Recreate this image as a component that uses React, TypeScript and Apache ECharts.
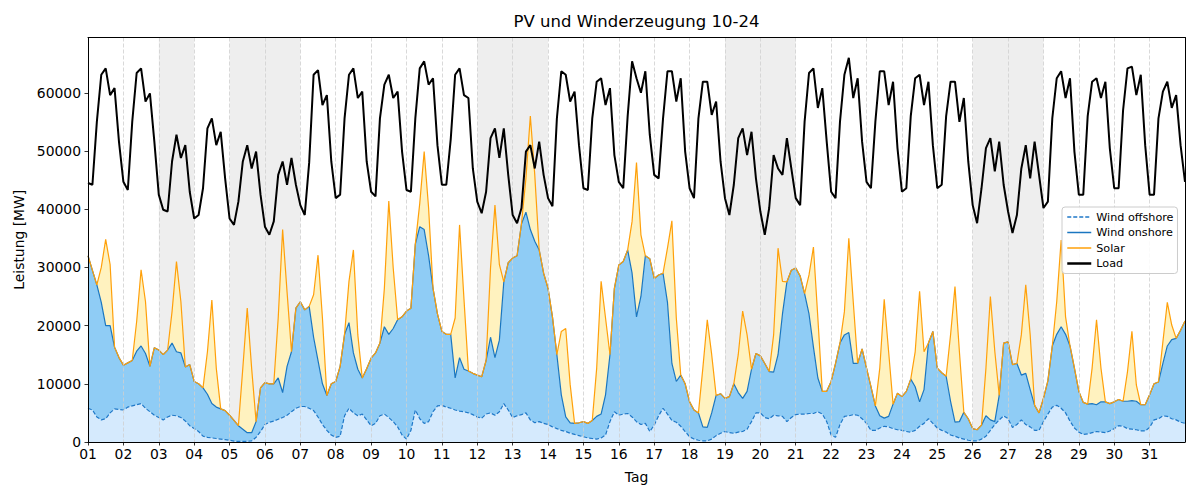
import React, { useEffect, useRef } from "react";
import * as echarts from "echarts";

// ---------- data ----------
const dayLabels = [
  "01", "02", "03", "04", "05", "06", "07", "08", "09", "10",
  "11", "12", "13", "14", "15", "16", "17", "18", "19", "20",
  "21", "22", "23", "24", "25", "26", "27", "28", "29", "30", "31",
];
const hoursOfDay = [0, 3, 6, 9, 12, 15, 18, 21];
// days (1-based) shaded as weekend / holiday
const shadedDays = [3, 5, 6, 12, 13, 19, 20, 26, 27];
const yTicks = [0, 10000, 20000, 30000, 40000, 50000, 60000];

// Load [MW], one row per day, values at 0,3,6,...,21 h
const loadMW = [
  [44500, 44200, 55000, 63100, 64200, 59600, 60800, 51600],
  [44700, 43300, 55000, 63400, 64200, 58500, 59900, 51600],
  [42500, 39900, 39600, 48200, 52800, 48800, 51000, 43000],
  [38400, 39000, 43600, 53900, 55600, 51000, 53300, 45300],
  [38400, 37300, 41300, 48200, 51000, 47000, 49900, 42500],
  [37000, 35600, 37900, 45900, 48200, 44200, 48800, 44200],
  [40700, 39000, 48000, 63100, 63900, 57900, 59600, 48200],
  [41900, 42500, 55600, 63100, 64200, 59100, 60200, 48200],
  [43000, 42200, 55600, 61400, 63100, 59100, 60200, 49900],
  [43300, 43000, 55600, 64200, 65400, 61400, 62500, 51000],
  [44200, 44200, 52000, 63100, 64200, 59600, 59100, 47000],
  [41300, 39300, 43000, 52200, 53900, 48800, 53900, 45900],
  [39000, 37600, 40200, 49900, 51000, 47000, 51600, 45900],
  [41900, 40500, 55600, 63700, 63100, 58500, 60200, 51000],
  [43600, 43300, 55600, 61900, 62500, 57900, 60800, 49300],
  [44700, 43600, 56000, 65400, 62500, 60000, 63700, 52800],
  [45900, 45300, 55600, 63700, 63700, 58500, 62500, 49900],
  [43600, 41900, 55600, 61900, 61900, 56200, 58500, 48200],
  [41900, 39000, 44200, 52200, 53900, 49300, 53300, 45300],
  [39600, 35600, 40200, 49300, 47000, 45900, 52200, 47000],
  [41900, 40700, 55000, 63400, 64200, 57400, 60800, 51600],
  [43000, 41900, 55000, 63100, 66000, 59100, 62500, 51600],
  [44700, 43600, 55000, 63700, 63700, 57900, 61900, 50500],
  [43000, 43600, 56000, 62500, 63100, 57900, 61900, 51000],
  [43600, 44200, 56000, 61900, 61900, 55000, 59100, 48200],
  [40700, 37600, 43600, 50500, 52200, 46500, 51600, 44200],
  [39600, 35900, 39000, 47000, 51000, 45300, 51600, 45900],
  [40200, 41300, 55600, 62500, 63700, 59100, 62500, 49900],
  [42500, 42500, 56000, 61900, 62500, 59100, 61900, 50500],
  [43600, 43600, 57000, 64200, 64500, 59600, 63100, 51000],
  [42500, 42500, 55600, 60200, 61900, 57400, 59600, 51000],
];
const loadEnd = 44700;

// Wind offshore [MW]
const windOffshoreMW = [
  [5800, 5500, 4300, 3800, 4000, 5000, 5700, 5600],
  [5500, 6000, 6200, 6400, 6600, 5800, 5200, 4600],
  [4200, 3800, 4300, 4600, 4500, 4200, 3600, 2800],
  [2300, 1800, 1000, 800, 700, 600, 500, 400],
  [300, 150, 100, 100, 100, 200, 800, 1800],
  [3000, 3400, 3600, 3900, 4200, 4600, 5200, 5800],
  [6100, 6100, 5800, 5400, 4300, 3000, 2000, 1200],
  [800, 1000, 4500, 5800, 5000, 4500, 4800, 3800],
  [2800, 3200, 4500, 4800, 4200, 3500, 2600, 1200],
  [500, 2000, 5500, 4000, 3200, 3500, 5200, 6200],
  [6300, 6000, 5800, 5500, 5300, 5200, 5000, 4700],
  [4300, 4100, 4800, 5000, 4600, 5200, 6600, 5500],
  [4200, 4500, 4700, 5000, 3800, 3300, 3500, 3200],
  [3000, 2600, 2300, 2000, 1800, 1500, 1300, 1100],
  [900, 700, 600, 500, 700, 1200, 3500, 5200],
  [4600, 4800, 4900, 4300, 3500, 3000, 3200, 1800],
  [2900, 4500, 5800, 4800, 3700, 3400, 2700, 1800],
  [900, 500, 300, 200, 200, 500, 1100, 1500],
  [1800, 1600, 1500, 1700, 1800, 2200, 3500, 5000],
  [5000, 4200, 4000, 4600, 4500, 4400, 3500, 4200],
  [4700, 4800, 4800, 4900, 4900, 5200, 4800, 3500],
  [1200, 800, 3000, 4400, 4500, 4700, 4600, 4000],
  [3200, 2000, 2000, 2400, 2700, 2600, 2300, 2100],
  [2000, 1800, 1700, 2000, 2700, 3200, 4000, 3200],
  [2400, 2000, 1700, 1200, 1000, 700, 500, 300],
  [200, 200, 500, 1000, 2000, 3000, 3800, 4500],
  [4000, 2500, 3000, 3800, 3000, 2600, 2000, 2000],
  [3500, 4800, 6000, 6300, 5800, 5000, 3600, 2400],
  [1700, 1300, 1400, 1600, 1800, 1700, 1600, 1900],
  [2300, 2800, 2700, 2300, 2200, 2100, 1900, 1900],
  [2500, 3800, 4000, 4500, 4400, 4000, 3800, 3400],
];
const windOffshoreEnd = 3200;

// Wind onshore [MW]
const windOnshoreMW = [
  [26200, 24000, 22700, 20200, 16000, 15000, 10600, 8900],
  [7700, 7600, 7800, 9200, 9900, 9400, 7800, 11600],
  [11600, 11200, 11500, 12400, 11000, 11100, 9300, 10500],
  [8100, 8200, 8300, 7400, 5900, 5400, 5200, 5000],
  [4300, 3550, 2700, 2100, 1500, 1400, 2700, 7500],
  [7200, 6600, 6400, 7100, 4300, 8400, 10300, 17200],
  [18000, 16600, 17500, 12600, 9700, 7000, 6000, 8800],
  [9600, 12000, 14000, 14700, 10300, 8000, 6200, 8800],
  [11600, 12100, 12500, 15000, 14300, 16000, 18400, 20300],
  [22000, 21000, 28500, 33000, 33300, 28500, 21200, 15800],
  [12700, 12500, 12700, 5500, 9200, 7300, 7200, 7100],
  [7200, 7100, 9200, 13000, 9900, 12300, 20900, 25300],
  [27400, 27500, 32800, 34500, 32700, 31200, 29500, 25800],
  [23400, 18900, 12700, 6100, 2500, 1800, 1900, 2200],
  [2600, 2500, 3100, 3900, 4100, 6900, 11500, 21200],
  [25800, 26200, 28100, 24700, 18000, 22000, 28800, 29700],
  [25200, 24200, 23200, 19200, 9800, 7000, 8800, 8200],
  [6000, 5000, 4700, 2400, 2300, 4500, 6900, 6800],
  [5700, 6200, 8500, 6800, 5700, 6500, 9000, 10200],
  [9800, 9300, 8100, 7400, 10500, 17600, 24000, 25300],
  [25200, 23700, 20700, 17100, 11400, 5800, 3900, 5200],
  [9200, 12700, 14000, 14000, 14300, 8800, 8900, 12000],
  [9500, 7500, 4200, 2100, 1400, 1800, 4200, 6300],
  [5800, 6900, 9100, 7500, 4200, 5800, 13000, 15800],
  [10300, 9900, 9600, 5800, 2400, 2800, 4600, 3700],
  [2100, 1900, 2400, 3500, 1800, 500, 4200, 12500],
  [13200, 10800, 10500, 7700, 8800, 6400, 4300, 3000],
  [4000, 5700, 10500, 12200, 14000, 13500, 12900, 10300],
  [7000, 5500, 5100, 5000, 4600, 5200, 5300, 4700],
  [4600, 4500, 4300, 4700, 4900, 4900, 4500, 4500],
  [5600, 6200, 6300, 9000, 12100, 13600, 14000, 15800],
];
const windOnshoreEnd = 17600;

// Solar [MW]
const solarMW = [
  [0, 0, 0, 6000, 14800, 10500, 0, 0],
  [0, 0, 0, 5100, 13100, 8900, 0, 0],
  [0, 0, 0, 5400, 15500, 8800, 0, 0],
  [0, 0, 0, 7300, 17800, 6700, 0, 0],
  [0, 0, 0, 10500, 21400, 11000, 0, 0],
  [0, 0, 0, 10300, 28000, 12800, 0, 0],
  [0, 0, 0, 7300, 18100, 11300, 0, 0],
  [0, 0, 0, 7100, 17700, 5900, 0, 0],
  [0, 0, 0, 6600, 22900, 10400, 0, 0],
  [0, 0, 0, 4000, 13400, 8200, 0, 0],
  [0, 0, 0, 10300, 22800, 12000, 0, 0],
  [0, 0, 0, 11900, 26200, 13000, 0, 0],
  [0, 0, 0, 5800, 19500, 11400, 0, 0],
  [0, 0, 0, 10900, 15200, 6600, 0, 0],
  [0, 0, 0, 8300, 22800, 13200, 0, 0],
  [0, 0, 0, 8900, 26500, 10600, 0, 0],
  [0, 0, 0, 9300, 24500, 10900, 0, 0],
  [0, 0, 0, 10100, 18500, 10000, 0, 0],
  [0, 0, 0, 6500, 15000, 9700, 0, 0],
  [0, 0, 0, 6400, 18300, 5600, 0, 0],
  [0, 0, 0, 6700, 17200, 10300, 0, 0],
  [0, 0, 0, 4000, 16200, 10600, 0, 0],
  [0, 0, 0, 8200, 20400, 11100, 0, 0],
  [0, 0, 0, 6000, 19000, 6500, 0, 0],
  [0, 0, 0, 11400, 23300, 12000, 0, 0],
  [0, 0, 0, 8200, 21200, 12100, 0, 0],
  [0, 0, 0, 6900, 15200, 9400, 0, 0],
  [0, 0, 0, 5600, 14900, 3000, 0, 0],
  [0, 0, 0, 6100, 14600, 5800, 0, 0],
  [0, 0, 0, 5100, 11900, 2800, 0, 0],
  [0, 0, 0, 3700, 7500, 2500, 0, 0],
];
const solarEnd = 0;

// ---------- helpers ----------
const FONT = "DejaVu Sans";

function flatten(rows: number[][], endValue: number): number[] {
  const out: number[] = [];
  rows.forEach((row) => row.forEach((v) => out.push(v)));
  out.push(endValue);
  return out;
}

export default function App() {
  const ref = useRef<HTMLDivElement>(null);

  useEffect(() => {
    if (!ref.current) return;
    const chart = echarts.init(ref.current, undefined, { renderer: "svg" });

    const nDays = dayLabels.length;
    const perDay = hoursOfDay.length;
    const timeCats: string[] = [];
    dayLabels.forEach((d) => hoursOfDay.forEach((h) => timeCats.push(`${d}.10. ${h}:00`)));
    timeCats.push("01.11. 0:00");

    const shadeAreas = shadedDays.map((d) => [
      { xAxis: (d - 1) * perDay },
      { xAxis: d * perDay },
    ]);

    const option: any = {
      animation: false,
      backgroundColor: "#ffffff",
      textStyle: { fontFamily: FONT },
      title: {
        text: "PV und Winderzeugung 10-24",
        left: 636.5,
        top: 13,
        textAlign: "center",
        padding: 0,
        textStyle: { fontFamily: FONT, fontSize: 16.5, fontWeight: "normal", color: "#000" },
      },
      grid: { left: 88, top: 37.5, width: 1097, height: 404.5, containLabel: false },
      legend: {
        orient: "vertical",
        left: 1062,
        top: 207,
        itemWidth: 24,
        itemHeight: 10,
        itemGap: 3.5,
        padding: [4, 4, 4, 4],
        borderColor: "#cccccc",
        borderWidth: 1,
        borderRadius: 3,
        backgroundColor: "rgba(255,255,255,0.85)",
        itemStyle: { opacity: 0 },
        textStyle: { fontFamily: FONT, fontSize: 11.2, lineHeight: 12, color: "#000" },
        selectedMode: false,
        data: [
          { name: "Wind offshore", lineStyle: { width: 1.5 } },
          { name: "Wind onshore", lineStyle: { width: 1.5 } },
          { name: "Solar", lineStyle: { width: 1.5 } },
          { name: "Load", lineStyle: { width: 2.5 } },
        ],
      },
      xAxis: [
        {
          // data axis (3-hourly samples); drawn only as the top frame line
          type: "category",
          position: "top",
          data: timeCats,
          boundaryGap: false,
          z: 3,
          axisLine: { show: true, onZero: false, lineStyle: { color: "#000", width: 1 } },
          axisTick: { show: false },
          axisLabel: { show: false },
          splitLine: { show: false },
        },
        {
          // day axis: ticks, labels, dashed day grid
          type: "value",
          position: "bottom",
          min: 0,
          max: nDays,
          interval: 1,
          z: 3,
          name: "Tag",
          nameLocation: "middle",
          nameGap: 28,
          nameTextStyle: { fontFamily: FONT, fontSize: 13.9, color: "#000" },
          axisLine: { show: true, onZero: false, lineStyle: { color: "#000", width: 1 } },
          axisTick: { show: true, inside: false, length: 3.5, lineStyle: { color: "#000", width: 0.8 } },
          axisLabel: {
            show: true,
            margin: 5,
            fontFamily: FONT,
            fontSize: 13.9,
            color: "#000",
            showMaxLabel: false,
            formatter: (v: number) => dayLabels[Math.round(v)] ?? "",
          },
          splitLine: { show: true, lineStyle: { color: "#cfcfcf", width: 0.8, type: [4, 2] } },
        },
      ],
      yAxis: [
        {
          type: "value",
          position: "left",
          min: 0,
          max: 69500,
          interval: 10000,
          z: 3,
          name: "Leistung [MW]",
          nameLocation: "middle",
          nameGap: 62,
          nameRotate: 90,
          nameTextStyle: { fontFamily: FONT, fontSize: 13.9, color: "#000" },
          axisLine: { show: true, onZero: false, lineStyle: { color: "#000", width: 1 } },
          axisTick: { show: true, inside: false, length: 3.5, lineStyle: { color: "#000", width: 0.8 } },
          axisLabel: {
            show: true,
            margin: 7,
            fontFamily: FONT,
            fontSize: 13.9,
            color: "#000",
            showMaxLabel: false,
            formatter: (v: number) => (yTicks.indexOf(v) >= 0 ? String(v) : ""),
          },
          splitLine: { show: false },
        },
        {
          type: "value",
          position: "right",
          min: 0,
          max: 69500,
          z: 3,
          axisLine: { show: true, onZero: false, lineStyle: { color: "#000", width: 1 } },
          axisTick: { show: false },
          axisLabel: { show: false },
          splitLine: { show: false },
        },
      ],
      series: [
        {
          name: "Wind offshore",
          type: "line",
          stack: "gen",
          xAxisIndex: 0,
          yAxisIndex: 0,
          data: flatten(windOffshoreMW, windOffshoreEnd),
          symbol: "none",
          showSymbol: false,
          silent: true,
          z: 2,
          lineStyle: { color: "#1f78c8", width: 1.2, type: [4, 2] },
          itemStyle: { color: "#1f78c8" },
          areaStyle: { color: "#d5eafd", opacity: 1 },
          markArea: {
            silent: true,
            z: 1,
            itemStyle: { color: "rgba(0,0,0,0.065)" },
            data: shadeAreas,
          },
        },
        {
          name: "Wind onshore",
          type: "line",
          stack: "gen",
          xAxisIndex: 0,
          yAxisIndex: 0,
          data: flatten(windOnshoreMW, windOnshoreEnd),
          symbol: "none",
          showSymbol: false,
          silent: true,
          z: 2,
          lineStyle: { color: "#1a76c0", width: 1.2 },
          itemStyle: { color: "#1a76c0" },
          areaStyle: { color: "#8fccf5", opacity: 1 },
        },
        {
          name: "Solar",
          type: "line",
          stack: "gen",
          xAxisIndex: 0,
          yAxisIndex: 0,
          data: flatten(solarMW, solarEnd),
          symbol: "none",
          showSymbol: false,
          silent: true,
          z: 2,
          lineStyle: { color: "#ffa00a", width: 1.2 },
          itemStyle: { color: "#ffa00a" },
          areaStyle: { color: "#fff2bf", opacity: 1 },
        },
        {
          name: "Load",
          type: "line",
          xAxisIndex: 0,
          yAxisIndex: 0,
          data: flatten(loadMW, loadEnd),
          symbol: "none",
          showSymbol: false,
          silent: true,
          z: 5,
          lineStyle: { color: "#000000", width: 2 },
          itemStyle: { color: "#000000" },
        },
      ],
    };

    chart.setOption(option);
    return () => {
      chart.dispose();
    };
  }, []);

  return (
    <div
      ref={ref}
      style={{ position: "absolute", left: 0, top: 0, width: 1200, height: 500 }}
    />
  );
}
